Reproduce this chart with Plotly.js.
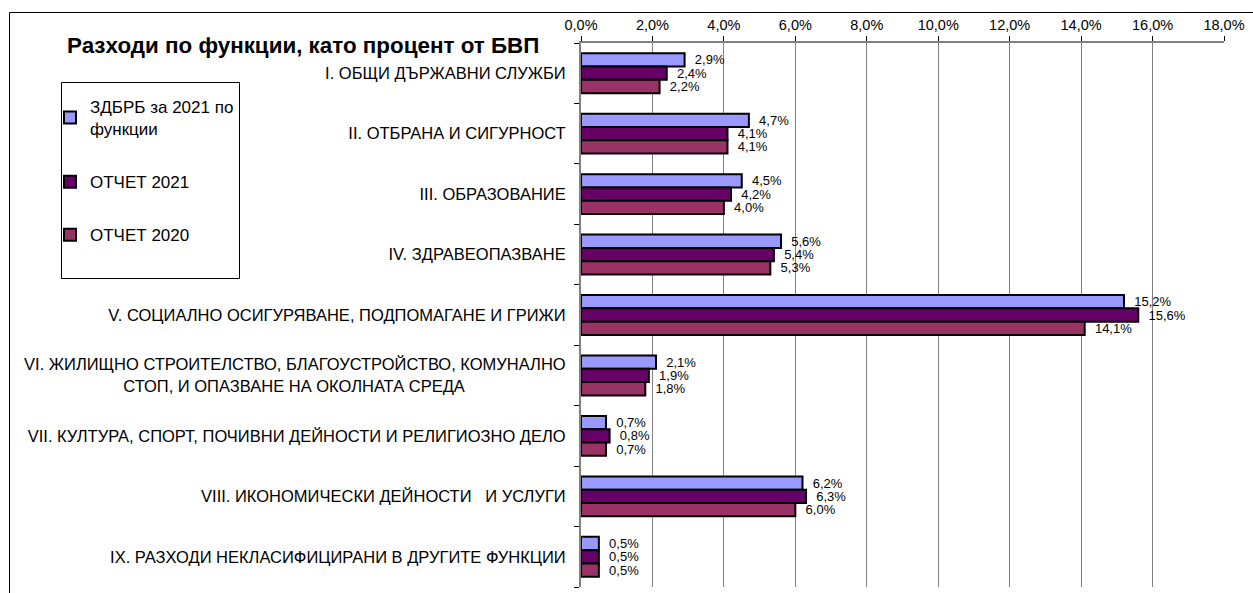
<!DOCTYPE html>
<html>
<head>
<meta charset="utf-8">
<script src="https://cdn.plot.ly/plotly-3.0.1.min.js"></script>
<style>html,body{margin:0;padding:0;background:#fff;}#chart{width:1253px;height:593px;}</style>
</head>
<body>
<div id="chart"></div>
<script>
const categories = [
  "I. ОБЩИ ДЪРЖАВНИ СЛУЖБИ",
  "II. ОТБРАНА И СИГУРНОСТ",
  "III. ОБРАЗОВАНИЕ",
  "IV. ЗДРАВЕОПАЗВАНЕ",
  "V. СОЦИАЛНО ОСИГУРЯВАНЕ, ПОДПОМАГАНЕ И ГРИЖИ",
  "VI. ЖИЛИЩНО СТРОИТЕЛСТВО, БЛАГОУСТРОЙСТВО, КОМУНАЛНО СТОП, И ОПАЗВАНЕ НА ОКОЛНАТА СРЕДА",
  "VII. КУЛТУРА, СПОРТ, ПОЧИВНИ ДЕЙНОСТИ И РЕЛИГИОЗНО ДЕЛО",
  "VIII. ИКОНОМИЧЕСКИ ДЕЙНОСТИ   И УСЛУГИ",
  "IX. РАЗХОДИ НЕКЛАСИФИЦИРАНИ В ДРУГИТЕ ФУНКЦИИ"
];
const categoryLabels = [
  "I. ОБЩИ ДЪРЖАВНИ СЛУЖБИ",
  "II. ОТБРАНА И СИГУРНОСТ",
  "III. ОБРАЗОВАНИЕ",
  "IV. ЗДРАВЕОПАЗВАНЕ",
  "V. СОЦИАЛНО ОСИГУРЯВАНЕ, ПОДПОМАГАНЕ И ГРИЖИ",
  "VI. ЖИЛИЩНО СТРОИТЕЛСТВО, БЛАГОУСТРОЙСТВО, КОМУНАЛНО<br>СТОП, И ОПАЗВАНЕ НА ОКОЛНАТА СРЕДА",
  "VII. КУЛТУРА, СПОРТ, ПОЧИВНИ ДЕЙНОСТИ И РЕЛИГИОЗНО ДЕЛО",
  "VIII. ИКОНОМИЧЕСКИ ДЕЙНОСТИ   И УСЛУГИ",
  "IX. РАЗХОДИ НЕКЛАСИФИЦИРАНИ В ДРУГИТЕ ФУНКЦИИ"
];
const seriesNames = ["ЗДБРБ за 2021 по<br>функции", "ОТЧЕТ 2021", "ОТЧЕТ 2020"];
const zdbrb2021 = [2.9, 4.7, 4.5, 5.6, 15.2, 2.1, 0.7, 6.2, 0.5];
const otchet2021 = [2.4, 4.1, 4.2, 5.4, 15.6, 1.9, 0.8, 6.3, 0.5];
const otchet2020 = [2.2, 4.1, 4.0, 5.3, 14.1, 1.8, 0.7, 6.0, 0.5];
const xTickVals = [0, 2, 4, 6, 8, 10, 12, 14, 16, 18];
const xTickLabels = ["0,0%", "2,0%", "4,0%", "6,0%", "8,0%", "10,0%", "12,0%", "14,0%", "16,0%", "18,0%"];

const colors = ["#9999FF", "#660066", "#993366"];
const FONT = "Liberation Sans, Arial, sans-serif";
const NB = "\u00a0";

// presentation: keep repeated spaces, centre the second line of a wrapped label
const tickText = categoryLabels.map(s => {
  let t = s.replace(/ {2,}/g, m => NB.repeat(m.length));
  const parts = t.split("<br>");
  if (parts.length === 2) t = parts[0] + "<br>" + parts[1] + NB.repeat(22);
  return t;
});

const W = 1253, H = 593;
const M = {l: 581, r: 29, t: 43, b: 6};
const PW = W - M.l - M.r, PH = H - M.t - M.b;
const px = x => (x - M.l) / PW;
const py = y => (H - M.b - y) / PH;

const data = [zdbrb2021, otchet2021, otchet2020].map((vals, i) => ({
  type: "bar",
  orientation: "h",
  name: seriesNames[i],
  legendgroup: "g" + i,
  y: categories,
  x: vals,
  marker: {color: colors[i], line: {color: "#000", width: 2}},
  texttemplate: NB + NB + "%{x:.1f}%",
  textposition: "outside",
  constraintext: "none",
  textfont: {family: FONT, size: 13, color: "#000"},
  cliponaxis: false,
  hoverinfo: "none"
}));

const layout = {
  width: W, height: H,
  margin: M,
  separators: ",.",
  paper_bgcolor: "#fff",
  plot_bgcolor: "#fff",
  font: {family: FONT, size: 16, color: "#000"},
  barmode: "group",
  bargap: 0.34,
  bargroupgap: 0,
  title: {
    text: "<b>Разходи по функции, като процент от БВП</b>",
    font: {family: FONT, size: 22.4, color: "#000"},
    xref: "container", yref: "container",
    x: 67 / W, xanchor: "left",
    y: 1 - 45 / H, yanchor: "middle"
  },
  xaxis: {
    side: "top",
    range: [0, 18],
    tickvals: xTickVals,
    ticktext: xTickLabels,
    ticks: "outside", ticklen: 5, tickcolor: "#000",
    showline: true, linecolor: "#808080", linewidth: 2,
    showgrid: true, gridcolor: "#808080", gridwidth: 1,
    zeroline: false,
    tickfont: {family: FONT, size: 14.5, color: "#000"},
    fixedrange: true
  },
  yaxis: {
    type: "category",
    autorange: "reversed",
    tickvals: categories,
    ticktext: tickText,
    tickson: "boundaries",
    ticks: "outside", ticklen: 5, tickcolor: "#000",
    showline: true, linecolor: "#808080", linewidth: 2,
    showgrid: false,
    zeroline: false,
    ticklabelstandoff: 10,
    tickfont: {family: FONT, size: 16.5, color: "#000"},
    fixedrange: true
  },
  showlegend: true,
  legend: {
    x: px(50), y: py(89),
    xanchor: "left", yanchor: "top",
    bgcolor: "rgba(0,0,0,0)",
    borderwidth: 0,
    tracegroupgap: 28,
    font: {family: FONT, size: 17, color: "#000"},
    itemclick: false, itemdoubleclick: false
  },
  shapes: [
    {type: "rect", xref: "paper", yref: "paper",
     x0: px(9.5), x1: px(1300), y0: py(12.5), y1: py(650),
     line: {color: "#000", width: 1}, fillcolor: "rgba(0,0,0,0)", layer: "below"},
    {type: "rect", xref: "paper", yref: "paper",
     x0: px(61.5), x1: px(239.5), y0: py(82.5), y1: py(278.5),
     line: {color: "#000", width: 1}, fillcolor: "rgba(0,0,0,0)", layer: "above"}
  ]
};

Plotly.newPlot("chart", data, layout, {displayModeBar: false, staticPlot: true});
</script>
</body>
</html>
